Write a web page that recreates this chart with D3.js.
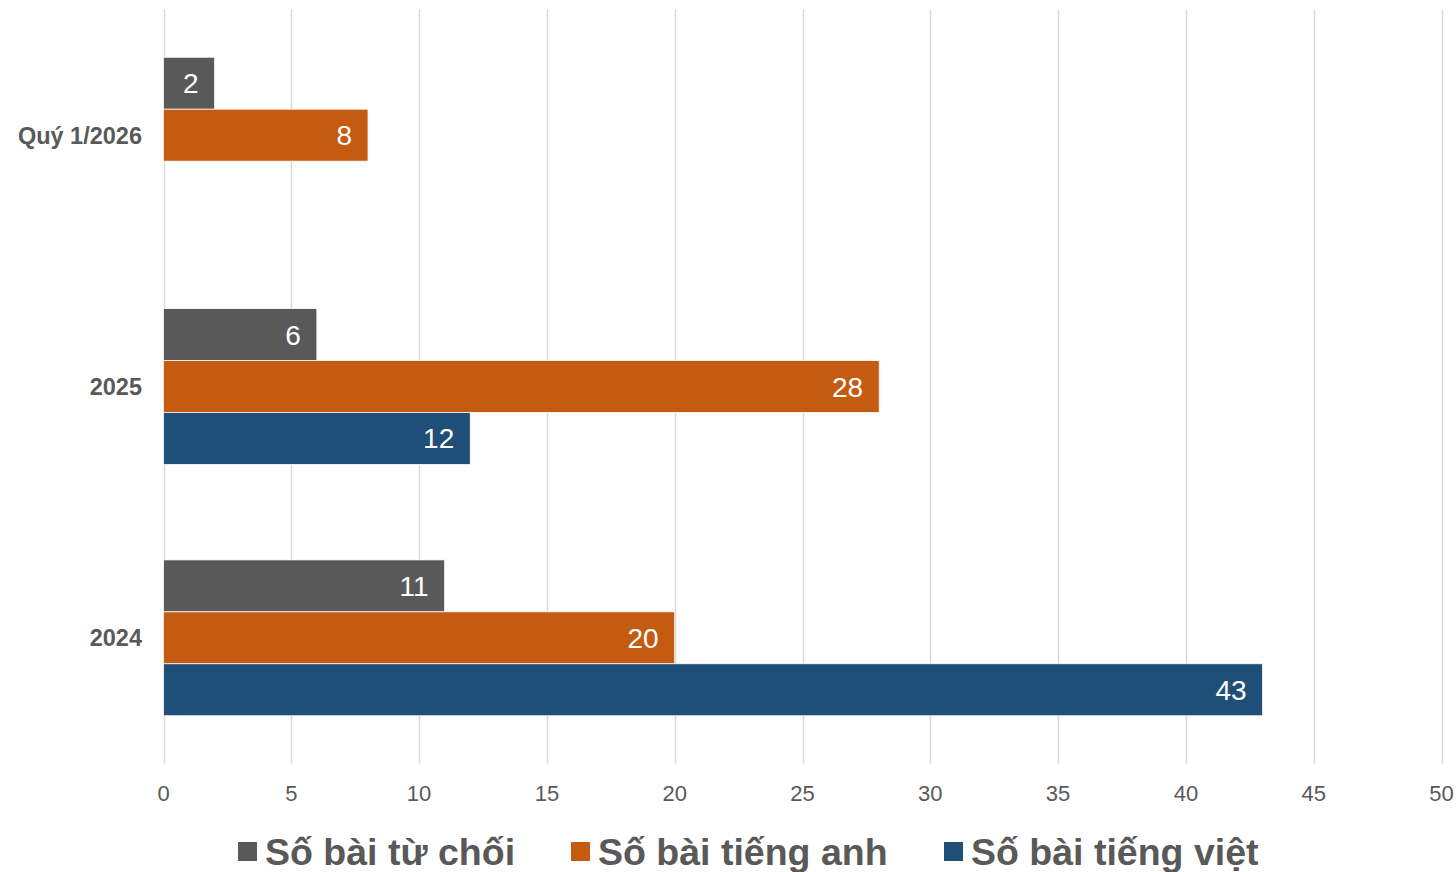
<!DOCTYPE html>
<html>
<head>
<meta charset="utf-8">
<script src="https://cdn.jsdelivr.net/npm/d3@7"></script>
<style>
    body { margin: 0; background: #fff; }
    svg text { font-family: "Liberation Sans", Arial, sans-serif; }
</style>
</head>
<body>
<div id="chart"></div>
<script>
    var categories = ['Quý 1/2026', '2025', '2024'];
    var seriesNames = ['Số bài từ chối', 'Số bài tiếng anh', 'Số bài tiếng việt'];
    var seriesColors = ['#595959', '#C55A11', '#1F4E79'];
    var tuChoi = [2, 6, 11];
    var tiengAnh = [8, 28, 20];
    var tiengViet = [null, 12, 43];
    var xTicks = [0, 5, 10, 15, 20, 25, 30, 35, 40, 45, 50];

    var seriesValues = [tuChoi, tiengAnh, tiengViet];

    var width = 1456, height = 872;
    var plotLeft = 163.5, plotRight = 1441.5, plotTop = 9.5, plotBottom = 763.5;

    var svg = d3.select('#chart')
        .append('svg')
        .attr('width', width)
        .attr('height', height)
    ;

    var x = d3.scaleLinear().domain([0, 50]).range([plotLeft, plotRight]);

    var y = d3.scaleBand()
        .domain(categories)
        .range([plotTop, plotBottom])
        .paddingInner(0.38)
        .paddingOuter(0.19)
    ;

    var ySub = d3.scaleBand()
        .domain(d3.range(seriesNames.length))
        .range([0, y.bandwidth()])
    ;

    // gridlines
    svg.append('g')
        .selectAll('line')
        .data(xTicks)
        .enter()
        .append('line')
        .attr('x1', function (d) { return Math.round(x(d)) + 0.5; })
        .attr('x2', function (d) { return Math.round(x(d)) + 0.5; })
        .attr('y1', plotTop)
        .attr('y2', plotBottom)
        .attr('stroke', '#d9d9d9')
        .attr('stroke-width', 1.5)
    ;

    // x tick labels
    svg.append('g')
        .selectAll('text')
        .data(xTicks)
        .enter()
        .append('text')
        .attr('x', function (d) { return x(d); })
        .attr('y', 801)
        .attr('text-anchor', 'middle')
        .attr('font-size', 22)
        .attr('fill', '#595959')
        .text(function (d) { return d; })
    ;

    // category labels
    svg.append('g')
        .selectAll('text')
        .data(categories)
        .enter()
        .append('text')
        .attr('x', 142)
        .attr('y', function (d) { return y(d) + y.bandwidth() / 2 + 8.5; })
        .attr('text-anchor', 'end')
        .attr('font-size', 23.5)
        .attr('font-weight', 'bold')
        .attr('fill', '#595959')
        .text(function (d) { return d; })
    ;

    // bars
    seriesValues.forEach(function (values, s) {

        var rows = categories.map(function (c, i) {
            return {cat: c, value: values[i]};
        }).filter(function (d) { return d.value !== null; });

        var g = svg.append('g');

        g.selectAll('rect')
            .data(rows)
            .enter()
            .append('rect')
            .attr('x', x(0))
            .attr('y', function (d) { return y(d.cat) + ySub(s); })
            .attr('width', function (d) { return x(d.value) - x(0); })
            .attr('height', ySub.bandwidth())
            .attr('fill', seriesColors[s])
            .attr('stroke', '#fff')
            .attr('stroke-width', 0.75)
        ;

        g.selectAll('text')
            .data(rows)
            .enter()
            .append('text')
            .attr('x', function (d) { return x(d.value) - 16; })
            .attr('y', function (d) { return y(d.cat) + ySub(s) + ySub.bandwidth() / 2 + 10; })
            .attr('text-anchor', 'end')
            .attr('font-size', 28)
            .attr('fill', '#fff')
            .text(function (d) { return d.value; })
        ;
    });

    // legend
    var legendX = [238, 571, 944];

    var legend = svg.append('g')
        .selectAll('g')
        .data(seriesNames)
        .enter()
        .append('g')
        .attr('transform', function (d, i) { return 'translate(' + legendX[i] + ',0)'; })
    ;

    legend.append('rect')
        .attr('x', 0)
        .attr('y', 842)
        .attr('width', 19)
        .attr('height', 19)
        .attr('fill', function (d, i) { return seriesColors[i]; })
    ;

    legend.append('text')
        .attr('x', 27)
        .attr('y', 865)
        .attr('font-size', 37.5)
        .attr('font-weight', 'bold')
        .attr('fill', '#595959')
        .text(function (d) { return d; })
    ;
</script>
</body>
</html>
